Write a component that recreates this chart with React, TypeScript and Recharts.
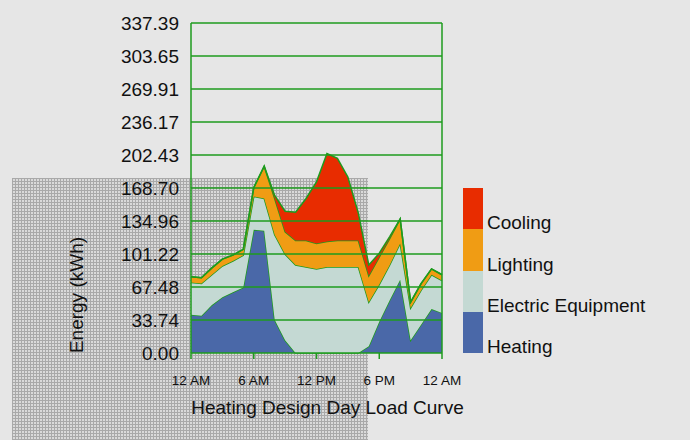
import { AreaChart, Area, XAxis, YAxis, ReferenceLine } from "recharts";

const hours = [0, 1, 2, 3, 4, 5, 6, 7, 8, 9, 10, 11, 12, 13, 14, 15, 16, 17, 18, 19, 20, 21, 22, 23, 24];
const heating = [39, 38, 49, 57, 62, 67, 126, 125, 34, 13, 0, 0, 0, 0, 0, 0, 0, 7, 32, 54, 75, 13, 29, 45, 41];
const electric = [33, 33, 31, 32, 32, 33, 34, 33, 87, 88, 90, 88, 86, 88, 88, 88, 88, 45, 38, 36, 37, 33, 35, 35, 33];
const lighting = [6, 6, 7, 7, 6, 6, 9, 33, 37, 23, 25, 27, 26, 26, 27, 27, 27, 27, 28, 27, 25, 6, 7, 6, 6];
const cooling = [0, 0, 0, 0, 0, 0, 0, 0, 3, 21, 29, 43, 63, 90, 84, 65, 28, 11, 4, 2, 0, 0, 0, 0, 0];

const xTicks = [0, 6, 12, 18, 24];
const xTickLabels = ["12 AM", "6 AM", "12 PM", "6 PM", "12 AM"];
const yTicks = [0, 33.74, 67.48, 101.22, 134.96, 168.7, 202.43, 236.17, 269.91, 303.65, 337.39];

const series = [
  { key: "heating", name: "Heating", color: "#4a68a8" },
  { key: "electric", name: "Electric Equipment", color: "#c4d9d3" },
  { key: "lighting", name: "Lighting", color: "#f09c14" },
  { key: "cooling", name: "Cooling", color: "#e82c00" },
];

const data = hours.map((h, i) => ({
  hour: h,
  heating: heating[i],
  electric: electric[i],
  lighting: lighting[i],
  cooling: cooling[i],
}));

const GREEN = "#1e9b1e";
const FONT = "'Liberation Sans', Arial, sans-serif";

function LegendBlocks() {
  const items = [...series].reverse();
  return (
    <div style={{ position: "absolute", left: 463, top: 188, fontFamily: FONT }}>
      {items.map((s) => (
        <div key={s.key} style={{ display: "flex", alignItems: "flex-end", height: 41.25 }}>
          <div style={{ width: 20, height: 41.25, background: s.color }} />
          <span style={{ fontSize: 19, lineHeight: "19px", marginLeft: 4, marginBottom: -3, color: "#111", whiteSpace: "nowrap" }}>
            {s.name}
          </span>
        </div>
      ))}
    </div>
  );
}

export default function App() {
  return (
    <div style={{ position: "fixed", left: 0, top: 0, width: 690, height: 440, background: "#e6e6e6", overflow: "hidden" }}>
      <div
        style={{
          position: "absolute",
          left: 12,
          top: 178,
          width: 356,
          height: 262,
          backgroundColor: "#dadada",
          backgroundImage:
            "repeating-linear-gradient(90deg, #a9a9a9 0 1px, transparent 1px 3px), repeating-linear-gradient(0deg, #a9a9a9 0 1px, transparent 1px 3px)",
        }}
      />
      <div style={{ position: "absolute", left: 0, top: 0 }}>
        <AreaChart width={690} height={440} data={data} margin={{ top: 23, right: 248, bottom: 47, left: 111 }}>
          <XAxis
            dataKey="hour"
            type="number"
            domain={[0, 24]}
            ticks={xTicks}
            tickFormatter={(v: number) => xTickLabels[xTicks.indexOf(v)]}
            height={40}
            axisLine={false}
            tickLine={{ stroke: GREEN, strokeWidth: 1.5 }}
            tickSize={6}
            tickMargin={16}
            tick={{ fill: "#111", fontSize: 13.5, fontFamily: FONT }}
            interval={0}
            label={{
              content: () => (
                <text x={327.5} y={414} textAnchor="middle" fill="#111" fontSize={19} fontFamily={FONT}>
                  Heating Design Day Load Curve
                </text>
              ),
            }}
          />
          <YAxis
            type="number"
            domain={[0, 337.39]}
            ticks={yTicks}
            tickFormatter={(v: number) => v.toFixed(2)}
            width={80}
            axisLine={false}
            tickLine={false}
            tickSize={0}
            tickMargin={12}
            tick={{ fill: "#111", fontSize: 19, fontFamily: FONT }}
            interval={0}
            label={{
              content: () => (
                <text x={83} y={295} transform="rotate(-90 83 295)" textAnchor="middle" fill="#111" fontSize={19} fontFamily={FONT}>
                  Energy (kWh)
                </text>
              ),
            }}
          />
          {series.map((s) => (
            <Area
              key={s.key}
              type="linear"
              dataKey={s.key}
              name={s.name}
              stackId="1"
              stroke={GREEN}
              strokeWidth={1.5}
              fill={s.color}
              fillOpacity={1}
              isAnimationActive={false}
            />
          ))}
          {yTicks.map((t) => (
            <ReferenceLine key={t} y={t} stroke={GREEN} strokeWidth={1.5} />
          ))}
          <ReferenceLine x={0} stroke={GREEN} strokeWidth={1.5} />
          <ReferenceLine x={24} stroke={GREEN} strokeWidth={1.5} />
        </AreaChart>
      </div>
      <LegendBlocks />
    </div>
  );
}
